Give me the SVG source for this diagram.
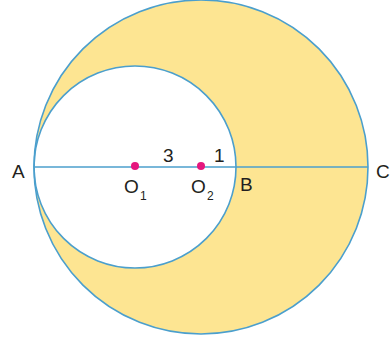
<svg xmlns="http://www.w3.org/2000/svg" width="390" height="345" viewBox="0 0 390 345">
<style>
.ln{stroke:#4b9fcd;stroke-width:1.6;fill:none}
.lbl{font-family:"Liberation Sans",Arial,sans-serif;font-size:19px;fill:#231f20}
.sub{font-family:"Liberation Sans",Arial,sans-serif;font-size:12px;fill:#231f20}
.pt{fill:#e5177e}
</style>
<rect width="390" height="345" fill="#ffffff"/>
<g id="shaded-region">
<path d="M 34 167 A 167 167 0 1 0 368 167 A 167 167 0 1 0 34 167 Z M 34 167 A 101 101 0 1 1 236 167 A 101 101 0 1 1 34 167 Z" fill="#fde592" fill-rule="evenodd"/>
</g>
<g id="big-circle"><circle class="ln" cx="201" cy="167" r="167"/></g>
<g id="small-circle"><circle class="ln" cx="135" cy="167" r="101"/></g>
<g id="connectors"><line class="ln" x1="34" y1="167" x2="368" y2="167"/></g>
<g id="O1"><circle class="pt" cx="135" cy="166" r="4"/><text class="lbl" x="124" y="193">O</text><text class="sub" x="140" y="200">1</text></g>
<g id="O2"><circle class="pt" cx="201" cy="166" r="4"/><text class="lbl" x="191" y="193">O</text><text class="sub" x="207" y="200">2</text></g>
<g id="A"><text class="lbl" x="12" y="178">A</text></g>
<g id="B"><text class="lbl" x="240" y="191">B</text></g>
<g id="C"><text class="lbl" x="376" y="178">C</text></g>
<g id="len3"><text class="lbl" x="163" y="162">3</text></g>
<g id="len1"><text class="lbl" x="214" y="162">1</text></g>
</svg>
